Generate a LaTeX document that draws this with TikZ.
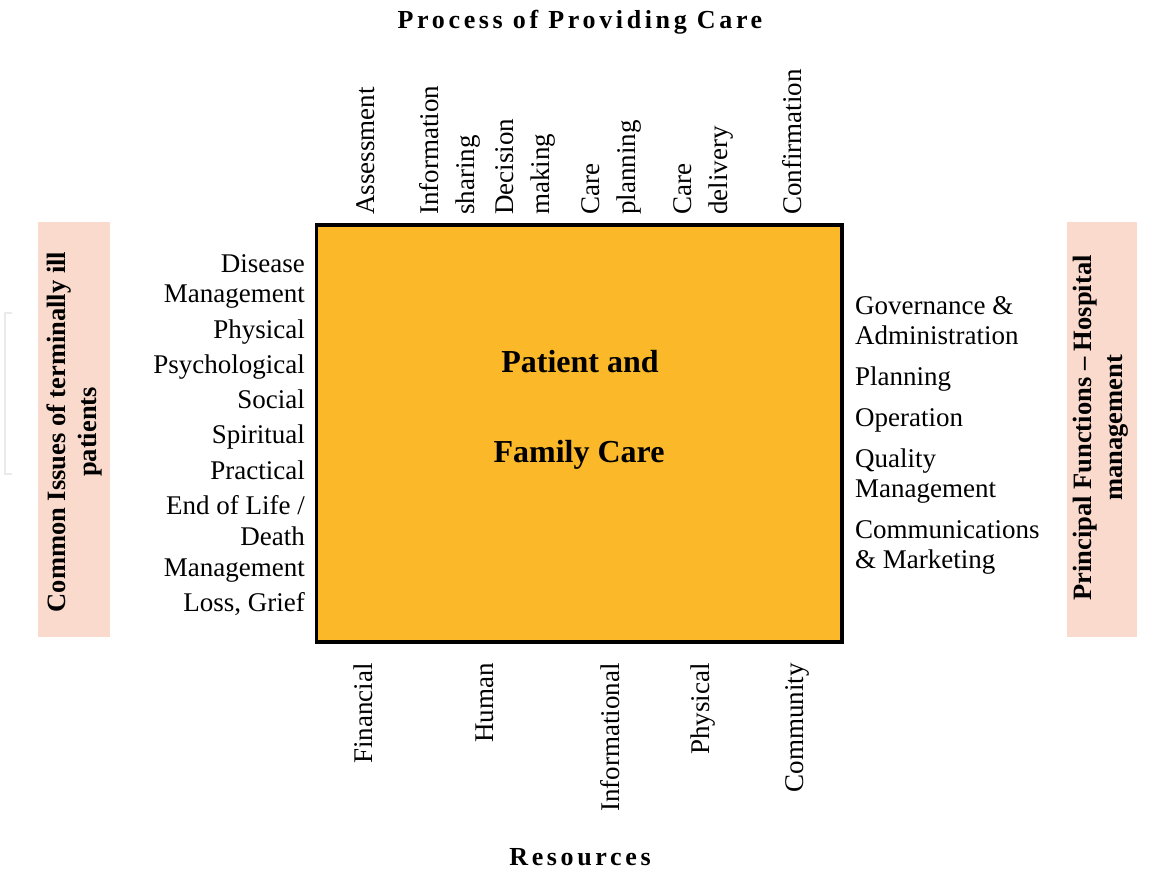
\documentclass[tikz,border=0pt]{standalone}
\usepackage{fontspec}
\setmainfont{Liberation Serif}
\definecolor{boxorange}{RGB}{251,184,40}
\definecolor{barpeach}{RGB}{249,218,205}
\definecolor{faintgray}{RGB}{234,234,234}
\begin{document}
\begin{tikzpicture}[x=1pt,y=-1pt,
  lbl/.style={font=\fontsize{27}{36}\selectfont, inner sep=0pt},
  toplbl/.style={lbl, rotate=90, align=left, anchor=west},
  botlbl/.style={lbl, rotate=90, anchor=east},
  leftlbl/.style={lbl, anchor=base east},
  rightlbl/.style={lbl, anchor=base west},
  bartitle/.style={font=\bfseries\fontsize{26.5}{31}\selectfont, inner sep=0pt, rotate=90, align=center},
  maintitle/.style={font=\bfseries\fontsize{26}{30}\selectfont\addfontfeatures{LetterSpace=14}, inner sep=0pt, anchor=base},
  centertxt/.style={font=\bfseries\fontsize{32}{38}\selectfont, inner sep=0pt, anchor=base},
  barbox/.style={fill=barpeach, draw=none}
]
\path[use as bounding box, fill=white] (0,0) rectangle (1159,869);

% faint artifact bracket
\draw[faintgray, line width=2pt] (12,313) -- (5,313) -- (5,474) -- (12,474);

% side bars
\path[barbox] (38,222) rectangle (110,637);
\path[barbox] (1067,222) rectangle (1137,637);
\node[bartitle] (leftbar) at (74,432) {Common Issues of terminally ill\\patients};
\node[bartitle] (rightbar) at (1101,428) {Principal Functions -- Hospital\\management};

% central box
\draw[fill=boxorange, draw=black, line width=3.5pt] (316.5,225) rectangle (842,642);
\node[centertxt] (pat) at (580,372) {Patient and};
\node[centertxt] (fam) at (579,462) {Family Care};

% titles
\node[maintitle] (ttop) at (580,29) {Process of Providing Care};
\node[maintitle] (tbot) at (580,865) {Resources};

% top labels
\node[toplbl] (t1) at (366,215) {Assessment};
\node[toplbl] (t2) at (450,215) {Information\\sharing};
\node[toplbl] (t3) at (525,215) {Decision\\making};
\node[toplbl] (t4) at (611,215) {Care\\planning};
\node[toplbl] (t5) at (703,215) {Care\\delivery};
\node[toplbl] (t6) at (792,215) {Confirmation};

% bottom labels
\node[botlbl] (b1) at (363,663) {Financial};
\node[botlbl] (b2) at (485,663) {Human};
\node[botlbl] (b3) at (610,663) {Informational};
\node[botlbl] (b4) at (703,663) {Physical};
\node[botlbl] (b5) at (797,663) {Community};

% left labels
\node[leftlbl] (l1) at (305,272) {Disease};
\node[leftlbl] (l2) at (305,302) {Management};
\node[leftlbl] (l3) at (305,338) {Physical};
\node[leftlbl] (l4) at (305,373) {Psychological};
\node[leftlbl] (l5) at (305,408) {Social};
\node[leftlbl] (l6) at (305,443) {Spiritual};
\node[leftlbl] (l7) at (305,479) {Practical};
\node[leftlbl] (l8) at (305,514) {End of Life /};
\node[leftlbl] (l9) at (305,545) {Death};
\node[leftlbl] (l10) at (305,576) {Management};
\node[leftlbl] (l11) at (305,611) {Loss, Grief};

% right labels
\node[rightlbl] (r1) at (855,314) {Governance \&};
\node[rightlbl] (r2) at (855,344) {Administration};
\node[rightlbl] (r3) at (855,385) {Planning};
\node[rightlbl] (r4) at (855,426) {Operation};
\node[rightlbl] (r5) at (855,467) {Quality};
\node[rightlbl] (r6) at (855,497) {Management};
\node[rightlbl] (r7) at (855,538) {Communications};
\node[rightlbl] (r8) at (855,568) {\& Marketing};
\end{tikzpicture}
\end{document}
